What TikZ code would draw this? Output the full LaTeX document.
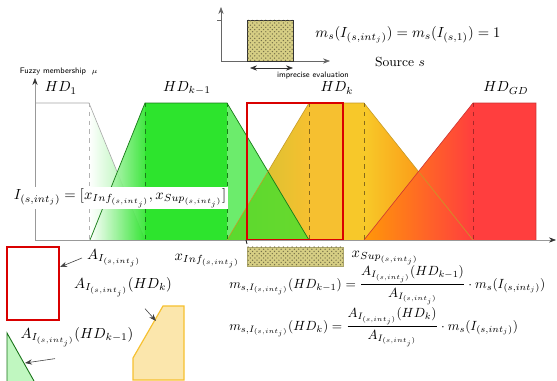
\documentclass[tikz,border=0pt]{standalone}
\usepackage{amsmath,amssymb}
\usepackage{xcolor}
\usetikzlibrary{arrows.meta,patterns,positioning}
\definecolor{hdgreen}{RGB}{45,228,45}
\definecolor{hdolive}{RGB}{200,195,50}
\definecolor{hdgold}{RGB}{246,192,48}
\definecolor{hdorange}{RGB}{255,140,10}
\definecolor{hdred}{RGB}{255,62,62}
\definecolor{khaki}{RGB}{214,206,132}
\newcommand{\Isj}{I_{(s,int_j)}}

\begin{document}
\begin{tikzpicture}[x=0.024cm,y=-0.024cm,>=Stealth,
  dashv/.style={dashed,line width=.4pt},
  ptr/.style={->,line width=.4pt,black!75},
  smalltxt/.style={font=\sffamily\fontsize{5.5}{6}\selectfont,inner sep=1pt},
  interval/.style={fill=khaki,postaction={pattern=crosshatch dots,pattern color=khaki!55!black}}]
\useasboundingbox (0,0) rectangle (557,381);
% source s: one imprecise evaluation
\draw[black!60,->] (221,61)--(221,7); \draw[black!60,->] (221,61)--(330,61);
\draw[black!60] (217,20)--(221,20);
\draw[interval,draw=black!80,line width=.6pt] (247,20) rectangle (293,61);
\coordinate (ia) at (250,68); \coordinate (ib) at (293,68);
\draw[<->,black!80,line width=.4pt] (ia)--(ib);
\node[smalltxt] (impr) at (313,75) {imprecise evaluation};
\node (msrc) at (408,35) {$m_s(\Isj) = m_s(I_{(s,1)}) = 1$};
\node[font=\small] (src) at (400,62) {Source $s$};
% membership functions
\fill[white] (35,103)--(89,103)--(145,240)--(35,240)--cycle;
\shade[left color=white,right color=hdgreen!55] (89,103)--(145,240)--(89,240)--cycle;
\draw[black!35,line width=.4pt] (35,103)--(89,103)--(145,240);
\shade[left color=white,right color=hdgreen,opacity=.9] (90,240)--(145,103)--(145,240)--cycle;
\fill[hdgreen] (145,103) rectangle (227,240);
\shade[left color=hdolive,right color=hdgold] (227,240)--(309,103)--(309,240)--cycle;
\fill[hdgreen,opacity=.7] (227,103)--(309,240)--(227,240)--cycle;
\draw[hdgreen!55!black,line width=.5pt] (90,240)--(145,103)--(227,103)--(309,240);
\fill[hdgold] (309,103) rectangle (364,240);
\fill[hdgold!88!yellow] (343,103) rectangle (364,240);
\shade[left color=hdgold!85!yellow,right color=hdorange!80!red] (364,103)--(473,240)--(364,240)--cycle;
\shade[left color=hdorange!90!yellow,right color=hdred] (364,240)--(473,103)--(473,240)--cycle;
\fill[hdred] (473,103) rectangle (536,240);
\draw[hdgold!80!black,line width=.4pt] (227,240)--(309,103)--(364,103)--(473,240);
\draw[hdred!80!black,line width=.4pt] (364,240)--(473,103)--(536,103)--(536,240);
\foreach \x/\c in {89/black!30,145/hdgreen!55!black,227/hdgreen!55!black,309/hdgold!55!black,364/hdgold!55!black,473/hdred!65!black}
  \draw[dashv,\c] (\x,103)--(\x,240);
\draw[red!85!black,line width=1.1pt] (247,103) rectangle (343,240);
% axes
\draw[black!40,-{Stealth[black!80]}] (35,240)--(35,78);
\draw[black!40,-{Stealth[black!80]}] (35,240)--(556,240);
\draw[black!85,line width=.6pt] (246,240)--(247,244);
\node[smalltxt,anchor=west] (mu) at (18,72) {Fuzzy membership \ $\mu$};
\node (hd1) at (61,88) {$HD_1$};
\node (hdkm) at (187,88) {$HD_{k-1}$};
\node (hdk) at (337,88) {$HD_k$};
\node (hdgd) at (506,88) {$HD_{GD}$};
\node[fill=white,inner sep=1pt] (ifml) at (120,198) {$\Isj = [x_{Inf_{(s,int_j)}}, x_{Sup_{(s,int_j)}}]$};
% interval and its parts
\draw[interval,draw=khaki!80!black,line width=.3pt] (247,247) rectangle (343,266);
\node (xinf) at (207,261) {$x_{Inf_{(s,int_j)}}$};
\node (xsup) at (385,258) {$x_{Sup_{(s,int_j)}}$};
\draw[red!85!black,line width=1.1pt] (7,247) rectangle (59,320);
\fill[hdgreen!30] (7,333)--(34,381)--(7,381)--cycle;
\draw[hdgreen!50!black,line width=.6pt] (7,381)--(7,333)--(34,381);
\draw[fill=hdgold!40,draw=hdgold,line width=.8pt] (163,306)--(184,306)--(184,380)--(133,380)--(133,358)--cycle;
\node (aint) at (114,258) {$A_{\Isj}$};
\node (aintk) at (123,287) {$A_{\Isj}(HD_k)$};
\node (aintkm) at (77,337) {$A_{\Isj}(HD_{k-1})$};
\coordinate (prect) at (60,267); \coordinate (ptk) at (156,321); \coordinate (ptkm) at (25,363);
\draw[ptr] (aint.west)--(prect);
\draw[ptr] ([shift={(22,7)}]aintk.south)--(ptk);
\draw[ptr] ([shift={(-22,7)}]aintkm.south)--(ptkm);
\node[anchor=west,inner sep=0pt,scale=.91] (eqkm) at (229,285) {$m_{s,\Isj}(HD_{k-1}) = \dfrac{A_{\Isj}(HD_{k-1})}{A_{\Isj}} \cdot m_s(\Isj)$};
\node[anchor=west,inner sep=0pt,scale=.91] (eqk) at (229,327) {$m_{s,\Isj}(HD_k) = \dfrac{A_{\Isj}(HD_k)}{A_{\Isj}} \cdot m_s(\Isj)$};
\end{tikzpicture}
\end{document}
